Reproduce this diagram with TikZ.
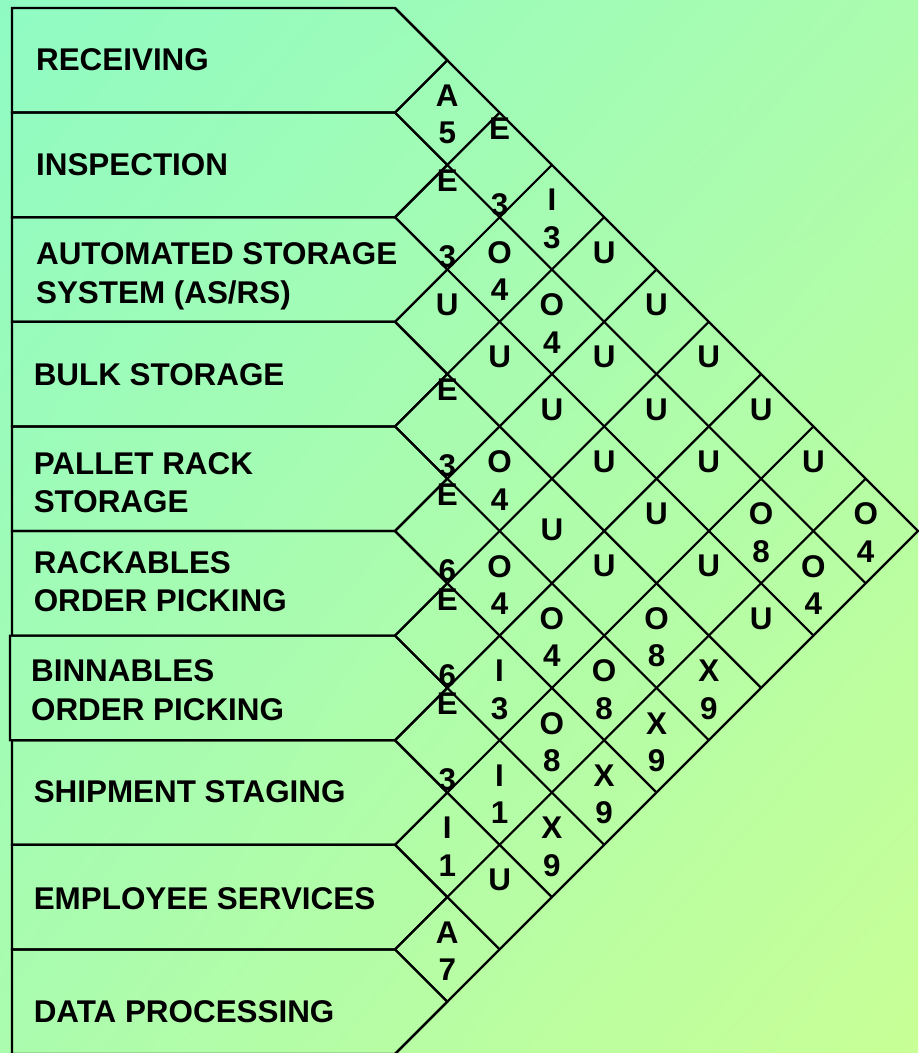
\documentclass[tikz,border=0pt]{standalone}
\usepackage{fontspec}
\setmainfont{Liberation Sans}
\usepackage{tikz}
\usetikzlibrary{shadings}

\definecolor{fondoA}{HTML}{8FFBC3}
\definecolor{fondoB}{HTML}{ABFCAE}
\definecolor{fondoC}{HTML}{C8FF96}

\tikzset{
	depto/.style={anchor=base west, inner sep=0pt, align=left, font=\fontsize{15.7}{19.2}\selectfont\bfseries},
	rel/.style={inner sep=0pt, font=\fontsize{15.7}{19.2}\selectfont\bfseries},
}

\begin{document}
\begin{tikzpicture}[x=.5pt, y=-.5pt, line width=1.1pt]
		\useasboundingbox (0, 0) rectangle (918, 1053);
		
		% Fondo
		\shade[upper left=fondoA, upper right=fondoB, lower left=fondoB, lower right=fondoC] (0, 0) rectangle (918, 1053);
		
		% Departamentos
		\foreach \k/\l in {1/12, 2/12, 3/12, 4/12, 5/12, 6/12, 7/10, 8/12, 9/12, 10/12} {
			\pgfmathsetmacro\t{8 + 104.6*(\k-1)}
			\pgfmathsetmacro\m{8 + 104.6*(\k-1) + 52.3}
			\pgfmathsetmacro\b{8 + 104.6*\k}
			\draw (\l, \t) -- (395, \t) -- (447.3, \m) -- (395, \b) -- (\l, \b) -- cycle;
		}
		
		% Rejilla
		\foreach \k in {1, ..., 9} {
			\pgfmathsetmacro\y{8 + 104.6*\k}
			\draw (395, \y) -- ++({(\y-8)/2}, {-(\y-8)/2});
			\draw (395, \y) -- ++({(1054-\y)/2}, {(1054-\y)/2});
		}
		\draw (395, 8) -- (918, 531) -- (395, 1054);
		
		% (con dos lineas el ancla base queda en la ultima)
		\node[depto] (recv) at (35, 70.7) {RECEIVING};
		\node[depto] (insp) at (35, 175.7) {INSPECTION};
		\node[depto] (asrs) at (35, 303.3) {AUTOMATED STORAGE\\SYSTEM (AS/RS)};
		\node[depto] (bulk) at (32.7, 385.7) {BULK STORAGE};
		\node[depto] (pallet) at (32.7, 512.7) {PALLET RACK\\STORAGE};
		\node[depto] (rack) at (32.7, 611.7) {RACKABLES\\ORDER PICKING};
		\node[depto] (binn) at (30, 720) {BINNABLES\\ORDER PICKING};
		\node[depto] (ship) at (32.7, 802.3) {SHIPMENT STAGING};
		\node[depto] (empl) at (32.7, 909.3) {EMPLOYEE SERVICES};
		\node[depto] (data) at (32.7, 1022.3) {DATA PROCESSING};
		
		% Relaciones: i/j/letra/razon/separacion
		\foreach \i/\j/\a/\r/\d in {
				1/2/A/5/18.75, 1/3/E/3/38, 1/4/I/3/18.75, 1/5/U//18.75, 1/6/U//18.75, 1/7/U//18.75, 1/8/U//18.75, 1/9/U//18.75, 1/10/O/4/18.75,
				2/3/E/3/38, 2/4/O/4/18.75, 2/5/O/4/18.75, 2/6/U//18.75, 2/7/U//18.75, 2/8/U//18.75, 2/9/O/8/18.75, 2/10/O/4/18.75,
				3/4/U//18.75, 3/5/U//18.75, 3/6/U//18.75, 3/7/U//18.75, 3/8/U//18.75, 3/9/U//18.75, 3/10/U//18.75,
				4/5/E/3/38, 4/6/O/4/18.75, 4/7/U//2.75, 4/8/U//18.75, 4/9/O/8/18.75, 4/10/X/9/18.75,
				5/6/E/6/38, 5/7/O/4/18.75, 5/8/O/4/18.75, 5/9/O/8/18.75, 5/10/X/9/18.75,
				6/7/E/6/38, 6/8/I/3/18.75, 6/9/O/8/18.75, 6/10/X/9/18.75,
				7/8/E/3/38, 7/9/I/1/18.75, 7/10/X/9/18.75,
				8/9/I/1/18.75, 8/10/U//18.75,
				9/10/A/7/18.75} {
			\pgfmathsetmacro\cx{395 + 52.3*(\j-\i)}
			\pgfmathsetmacro\cy{60.3 + 52.3*(\i+\j-2) + 1.75}
			\node[rel] (l\i-\j) at (\cx, \cy-\d) {\a};
			\ifx\r\empty\else
				\node[rel] (n\i-\j) at (\cx, \cy+\d) {\r};
			\fi
		}
	\end{tikzpicture}
\end{document}
